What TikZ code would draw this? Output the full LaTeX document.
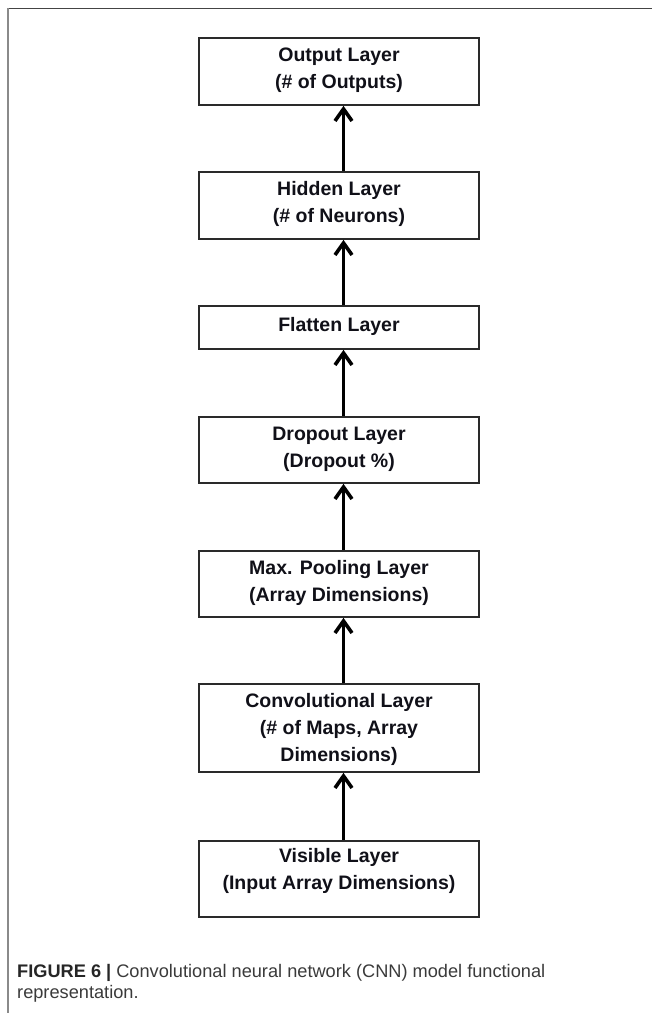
\documentclass[tikz,border=0pt]{standalone}
\usepackage{fontspec}
\setmainfont{Liberation Sans}
\usetikzlibrary{arrows.meta}
\definecolor{boxline}{HTML}{2A2A2A}
\definecolor{boxtext}{HTML}{101018}
\definecolor{frametop}{HTML}{444444}
\definecolor{frameleft}{HTML}{8A8A8A}
\definecolor{captext}{HTML}{3A3A3A}
\tikzset{
  layerbox/.style={draw=boxline, line width=1.7pt, minimum width=280pt, inner sep=0pt, fill=white},
  layertext/.style={text=boxtext, font=\fontsize{19.5}{27}\selectfont\bfseries, align=center, inner sep=0pt},
  uparrow/.style={line width=3.6pt, -{Straight Barb[length=12pt,width=17pt,line width=3.6pt]}},
  captionline/.style={anchor=base west, inner sep=0pt, text=captext, font=\fontsize{18.2}{20}\selectfont}
}
\begin{document}
\begin{tikzpicture}[x=1pt,y=1pt]
\useasboundingbox (0,0) rectangle (652,-1013);
% frame
\draw[frametop, line width=1.3pt] (7,-8.5) coordinate (ftl) -- (652,-8.5) coordinate (ftr);
\draw[frameleft, line width=1.6pt] (7.7,-8) coordinate (fl1) -- (7.7,-1013) coordinate (fl2);
% boxes
\node[layerbox, minimum height=67pt] (out) at (339,-71.5) {};
\node[layertext] (outt) at (339,-70) {Output Layer\\(\# of Outputs)};
\node[layerbox, minimum height=67pt] (hid) at (339,-205.5) {};
\node[layertext] (hidt) at (339,-204) {Hidden Layer\\(\# of Neurons)};
\node[layerbox, minimum height=43pt] (fla) at (339,-327.5) {};
\node[layertext] (flat) at (339,-326) {Flatten Layer};
\node[layerbox, minimum height=66pt] (dro) at (339,-450) {};
\node[layertext] (drot) at (339,-449) {Dropout Layer\\(Dropout \%)};
\node[layerbox, minimum height=66pt] (mpl) at (339,-584) {};
\node[layertext] (mplt) at (339,-583) {Max. Pooling Layer\\(Array Dimensions)};
\node[layerbox, minimum height=88pt] (cnv) at (339,-728) {};
\node[layertext] (cnvt) at (339,-729) {Convolutional Layer\\(\# of Maps, Array\\Dimensions)};
\node[layerbox, minimum height=76pt] (vis) at (339,-879) {};
\node[layertext] (vist) at (339,-871) {Visible Layer\\(Input Array Dimensions)};
% arrows
\draw[uparrow] ([xshift=4.5pt]hid.north) -- ([xshift=4.5pt]out.south);
\draw[uparrow] ([xshift=4.5pt]fla.north) -- ([xshift=4.5pt]hid.south);
\draw[uparrow] ([xshift=4.5pt]dro.north) -- ([xshift=4.5pt]fla.south);
\draw[uparrow] ([xshift=4.5pt]mpl.north) -- ([xshift=4.5pt]dro.south);
\draw[uparrow] ([xshift=4.5pt]cnv.north) -- ([xshift=4.5pt]mpl.south);
\draw[uparrow] ([xshift=4.5pt]vis.north) -- ([xshift=4.5pt]cnv.south);
% caption
\node[captionline] (cap1) at (17,-977) {{\bfseries\color{black!85}FIGURE 6 |} Convolutional neural network (CNN) model functional};
\node[captionline] (cap2) at (17,-998) {representation.};
\end{tikzpicture}
\end{document}
